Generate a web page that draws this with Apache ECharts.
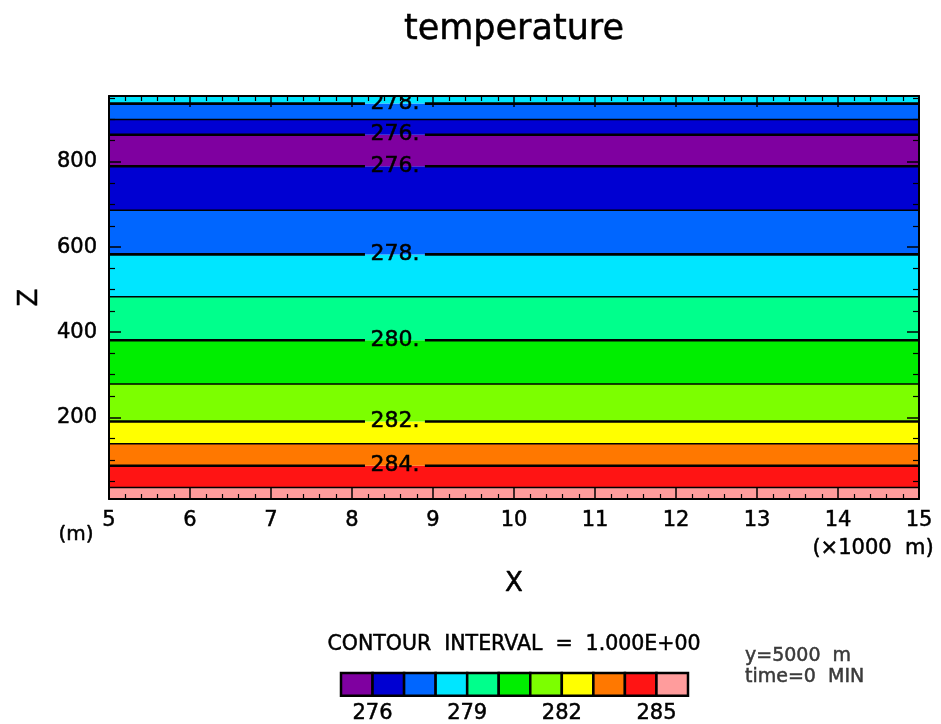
<!DOCTYPE html>
<html>
<head>
<meta charset="utf-8">
<script src="https://cdn.jsdelivr.net/npm/echarts@6/dist/echarts.min.js"></script>
<style>
  html, body { margin: 0; padding: 0; background: #fff; }
  #chart { width: 941px; height: 724px; }
</style>
</head>
<body>
<div id="chart"></div>
<script>
// Horizontal domain (km) and vertical domain (m)
const xExtent = [5, 15];
const zExtent = [8, 955];

// Vertical axis tick values
const zMajorTicks = [200, 400, 600, 800];
const zMinorTicks = [50, 100, 150, 250, 300, 350, 450, 500, 550, 650, 700, 750, 850, 900, 950];

// Contour lines: temperature level and the height where it lies (horizontally uniform field)
const contourLevels  = [285, 284, 283, 282, 281, 280, 279, 278, 277, 276, 276, 277, 278];
const contourHeights = [35.2, 86.1, 137.7, 190.0, 278.5, 381.0, 483.3, 582.8, 686.8, 790.0, 863.9, 899.6, 937.1];

// Representative temperature of each layer between consecutive contours (bottom to top)
const bandTemps = [285.4, 284.5, 283.5, 282.5, 281.5, 280.5, 279.5, 278.5, 277.5, 276.5, 275.6, 276.5, 277.5, 278.3];

// Shading levels and palette (11 tones)
const toneLevels = [276, 277, 278, 279, 280, 281, 282, 283, 284, 285];
const toneColors = ['#7f00a0', '#0000d2', '#0066ff', '#00e6ff', '#00ff8c', '#00ee00',
                    '#7cff00', '#ffff00', '#ff7800', '#ff1414', '#ff9c9c'];
const toneBarLabels = [276, 279, 282, 285];

const FONT = 'DejaVu Sans';
// slightly heavier strokes for the plotted text
const heavy = { textBorderColor: '#000', textBorderWidth: 0.5 };

function toneIndex(t) {
  return toneLevels.filter(l => l <= t).length;
}

// Layer rectangles [zLow, zHigh, toneIndex]
const bandEdges = [zExtent[0]].concat(contourHeights, [zExtent[1]]);
const bandData = bandTemps.map((t, i) => [bandEdges[i], bandEdges[i + 1], toneIndex(t)]);

// Contour data [z, level]
const contourData = contourHeights.map((z, i) => [z, contourLevels[i]]);

// Tone bar boxes [lo, hi, toneIndex]
const toneBarData = toneColors.map((c, i) => [toneLevels[0] - 1 + i, toneLevels[0] + i, i]);

const chart = echarts.init(document.getElementById('chart'), null, { renderer: 'canvas' });

function txt(x, y, text, size, align, color) {
  return {
    type: 'text', x: x, y: y,
    style: {
      text: text, font: size + 'px ' + FONT, fill: color, align: align, verticalAlign: 'middle',
      stroke: color, lineWidth: 0.5
    }
  };
}

const option = {
  backgroundColor: '#fff',
  animation: false,
  textStyle: { fontFamily: FONT },
  grid: [
    { left: 109, top: 96, width: 810, height: 403 },
    { left: 341, top: 673, width: 347, height: 24 }
  ],
  xAxis: [
    {
      gridIndex: 0, type: 'value', position: 'bottom', min: xExtent[0], max: xExtent[1], interval: 1, z: 10,
      axisLine: { show: true, onZero: false, lineStyle: { color: '#000', width: 2 } },
      axisTick: { show: true, inside: true, length: 11, lineStyle: { color: '#000', width: 1.5 } },
      minorTick: { show: true, splitNumber: 5, length: 5, lineStyle: { color: '#000', width: 1.2 } },
      splitLine: { show: false },
      axisLabel: Object.assign({ color: '#000', fontSize: 21, fontFamily: FONT, margin: 11 }, heavy),
      name: 'X', nameLocation: 'middle', nameGap: 72,
      nameTextStyle: Object.assign({ color: '#000', fontSize: 26, fontFamily: FONT }, heavy)
    },
    {
      gridIndex: 0, type: 'value', position: 'top', min: xExtent[0], max: xExtent[1], interval: 1, z: 10,
      axisLine: { show: true, onZero: false, lineStyle: { color: '#000', width: 2 } },
      axisTick: { show: true, inside: true, length: 11, lineStyle: { color: '#000', width: 1.5 } },
      minorTick: { show: true, splitNumber: 5, length: 5, lineStyle: { color: '#000', width: 1.2 } },
      splitLine: { show: false },
      axisLabel: { show: false }
    },
    {
      gridIndex: 1, type: 'value', min: toneLevels[0] - 1, max: toneLevels[toneLevels.length - 1] + 1, interval: 1,
      axisLine: { show: false }, axisTick: { show: false }, splitLine: { show: false },
      axisLabel: Object.assign({
        color: '#000', fontSize: 21, fontFamily: FONT, margin: 7,
        formatter: v => (toneBarLabels.indexOf(v) >= 0 ? String(v) : '')
      }, heavy)
    }
  ],
  yAxis: [
    {
      gridIndex: 0, type: 'value', position: 'left', min: zExtent[0], max: zExtent[1], z: 10,
      axisLine: { show: true, onZero: false, lineStyle: { color: '#000', width: 2 } },
      axisTick: { show: true, inside: true, length: 12, customValues: zMajorTicks, lineStyle: { color: '#000', width: 1.5 } },
      splitLine: { show: false },
      axisLabel: Object.assign({ color: '#000', fontSize: 21, fontFamily: FONT, margin: 12, customValues: zMajorTicks }, heavy),
      name: 'Z', nameLocation: 'middle', nameGap: 66,
      nameTextStyle: Object.assign({ color: '#000', fontSize: 26, fontFamily: FONT }, heavy)
    },
    {
      gridIndex: 0, type: 'value', position: 'left', offset: 0, min: zExtent[0], max: zExtent[1], z: 10,
      axisLine: { show: false },
      axisTick: { show: true, inside: true, length: 6, customValues: zMinorTicks, lineStyle: { color: '#000', width: 1.2 } },
      splitLine: { show: false },
      axisLabel: { show: false }
    },
    {
      gridIndex: 0, type: 'value', position: 'right', offset: 0, min: zExtent[0], max: zExtent[1], z: 10,
      axisLine: { show: true, onZero: false, lineStyle: { color: '#000', width: 2 } },
      axisTick: { show: true, inside: true, length: 12, customValues: zMajorTicks, lineStyle: { color: '#000', width: 1.5 } },
      splitLine: { show: false },
      axisLabel: { show: false }
    },
    {
      gridIndex: 0, type: 'value', position: 'right', offset: 0, min: zExtent[0], max: zExtent[1], z: 10,
      axisLine: { show: false },
      axisTick: { show: true, inside: true, length: 6, customValues: zMinorTicks, lineStyle: { color: '#000', width: 1.2 } },
      splitLine: { show: false },
      axisLabel: { show: false }
    },
    {
      gridIndex: 1, type: 'value', min: 0, max: 1, show: false
    }
  ],
  graphic: [
    txt(514, 30, 'temperature', 35, 'center', '#000'),
    txt(76, 535, '(m)', 20, 'center', '#000'),
    txt(873, 549, '(×1000  m)', 21, 'center', '#000'),
    txt(514, 645, 'CONTOUR  INTERVAL  =  1.000E+00', 20.5, 'center', '#000'),
    txt(745, 656, 'y=5000  m', 19, 'left', '#3a3a3a'),
    txt(745, 677, 'time=0  MIN', 19, 'left', '#3a3a3a')
  ],
  series: [
    {
      // shaded layers
      type: 'custom', xAxisIndex: 0, yAxisIndex: 0, clip: true, z: 1,
      encode: { x: -1, y: [0, 1] },
      data: bandData,
      renderItem: (params, api) => {
        const zLo = api.value(0), zHi = api.value(1), ci = api.value(2);
        const p0 = api.coord([xExtent[0], zHi]);
        const p1 = api.coord([xExtent[1], zLo]);
        return {
          type: 'rect',
          shape: { x: p0[0], y: p0[1], width: p1[0] - p0[0], height: p1[1] - p0[1] },
          style: { fill: toneColors[ci], stroke: null }
        };
      }
    },
    {
      // contour lines with labels on even levels
      type: 'custom', xAxisIndex: 0, yAxisIndex: 0, clip: true, z: 3,
      encode: { x: -1, y: 0 },
      data: contourData,
      renderItem: (params, api) => {
        const z = api.value(0), lev = api.value(1);
        const labeled = lev % 2 === 0;
        const a = api.coord([xExtent[0], z]);
        const b = api.coord([xExtent[1], z]);
        const y = a[1];
        if (!labeled) {
          return {
            type: 'line',
            shape: { x1: a[0], y1: y, x2: b[0], y2: y },
            style: { stroke: '#000', lineWidth: 1.5 }
          };
        }
        const g0 = api.coord([8.16, z])[0];
        const g1 = api.coord([8.90, z])[0];
        const lc = api.coord([8.53, z])[0];
        return {
          type: 'group',
          children: [
            { type: 'line', shape: { x1: a[0], y1: y, x2: g0, y2: y }, style: { stroke: '#000', lineWidth: 2.6 } },
            { type: 'line', shape: { x1: g1, y1: y, x2: b[0], y2: y }, style: { stroke: '#000', lineWidth: 2.6 } },
            { type: 'text', x: lc, y: y, style: { text: lev + '.', font: '22px ' + FONT, fill: '#000', stroke: '#000', lineWidth: 0.5, align: 'center', verticalAlign: 'middle' } }
          ]
        };
      }
    },
    {
      // tone bar
      type: 'custom', xAxisIndex: 2, yAxisIndex: 4, z: 2,
      encode: { x: [0, 1], y: -1 },
      data: toneBarData,
      renderItem: (params, api) => {
        const lo = api.value(0), hi = api.value(1), ci = api.value(2);
        const p0 = api.coord([lo, 1]);
        const p1 = api.coord([hi, 0]);
        return {
          type: 'rect',
          shape: { x: p0[0], y: p0[1], width: p1[0] - p0[0], height: p1[1] - p0[1] },
          style: { fill: toneColors[ci], stroke: '#000', lineWidth: 2.5 }
        };
      }
    }
  ]
};

chart.setOption(option);
</script>
</body>
</html>
